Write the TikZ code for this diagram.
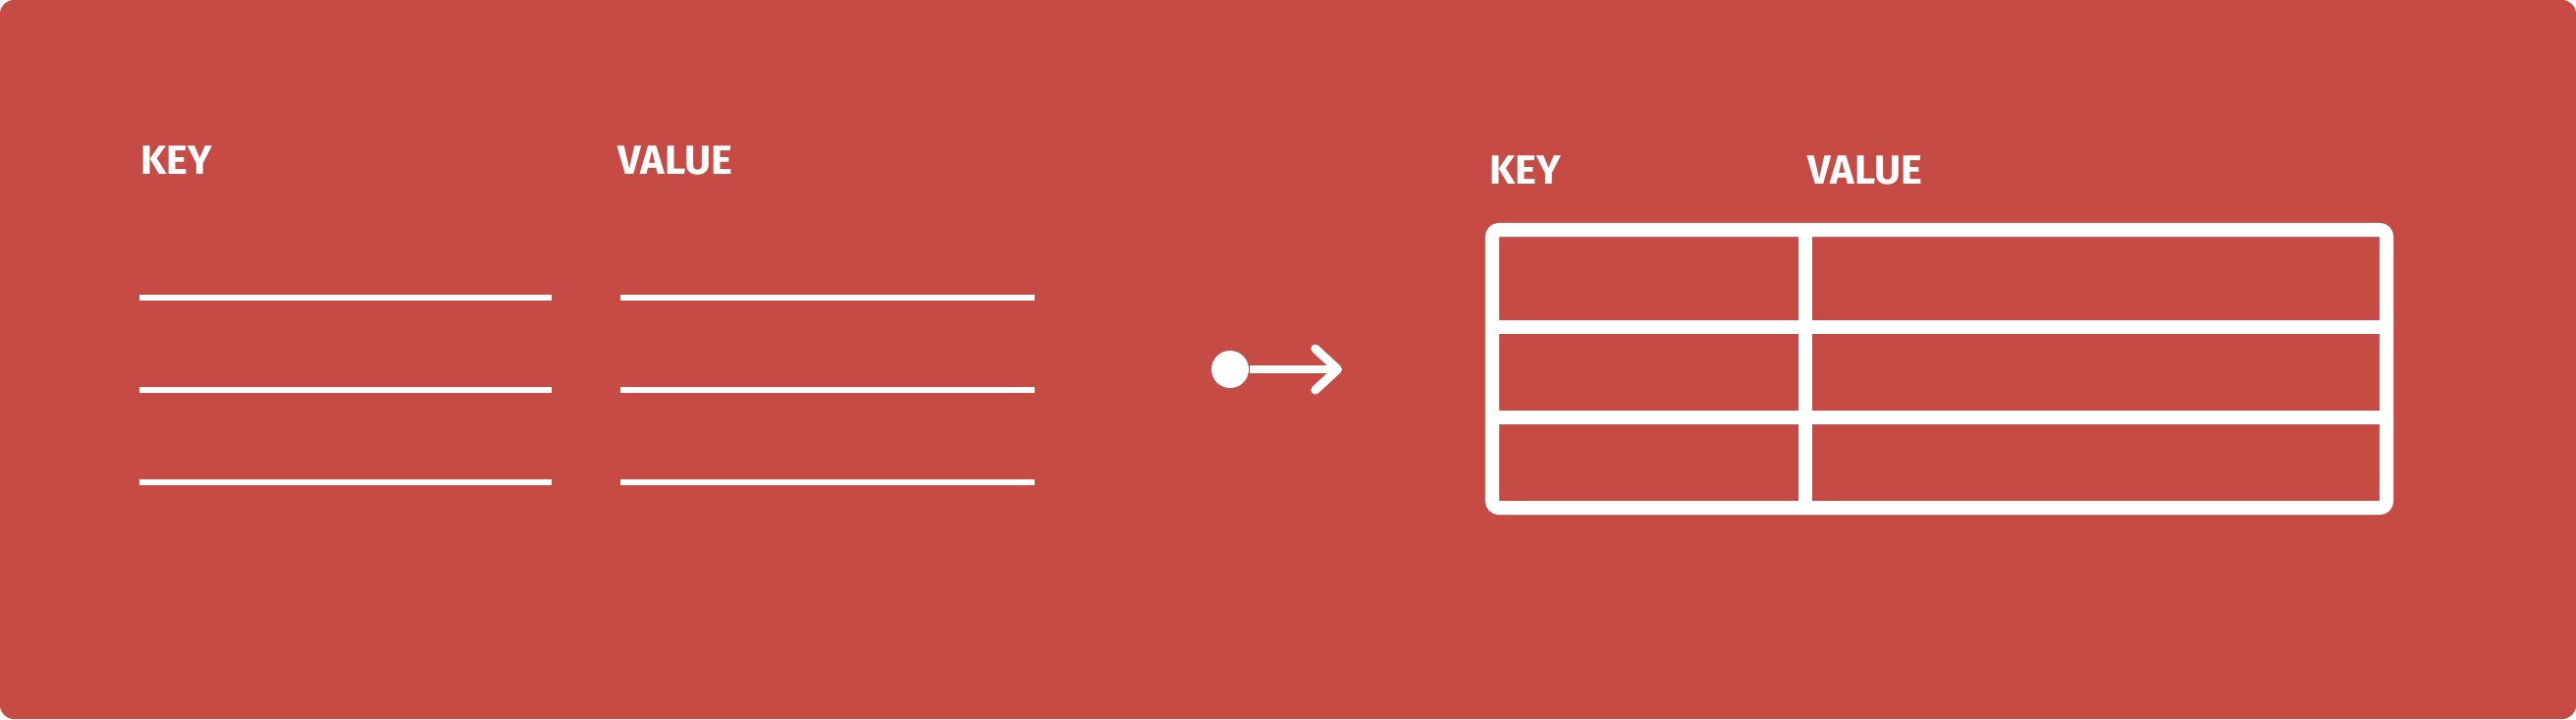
\documentclass[tikz,border=0pt]{standalone}
\usepackage{fontspec}
\setmainfont{Fira Sans}
\usepackage{tikz}
\usepackage{xcolor}
\usetikzlibrary{arrows.meta}
\definecolor{bgred}{RGB}{198,75,69}
\definecolor{linewhite}{RGB}{255,255,255}

\begin{document}
\begin{tikzpicture}[x=0.01cm, y=-0.01cm] % 1 unit = 1 pixel of the picture, y going down

    % Background card with rounded corners
    \useasboundingbox (0,0) rectangle (2624,732);
    \fill[bgred, rounded corners=4pt] (0,0) rectangle (2624,732);

    % Column headings on the left
    \node[anchor=base west, inner sep=0pt, text=white, font=\bfseries\fontsize{11.8}{14}\selectfont] (keyL) at (143,177) {KEY};
    \node[anchor=base west, inner sep=0pt, text=white, font=\bfseries\fontsize{11.8}{14}\selectfont] (valL) at (629,177) {VALUE};

    % Blank lines under KEY
    \draw[linewhite, line width=1.7pt] (142,303) -- (562,303); % first row
    \draw[linewhite, line width=1.7pt] (142,397) -- (562,397); % second row
    \draw[linewhite, line width=1.7pt] (142,491) -- (562,491); % third row
    % Blank lines under VALUE
    \draw[linewhite, line width=1.7pt] (632,303) -- (1054,303); % first row
    \draw[linewhite, line width=1.7pt] (632,397) -- (1054,397); % second row
    \draw[linewhite, line width=1.7pt] (632,491) -- (1054,491); % third row

    % Arrow that starts with a dot
    \node[circle, fill=white, minimum size=0.38cm, inner sep=0pt] (dot) at (1253,376) {};
    \coordinate (tip) at (1367,376);
    \draw[white, line width=2.5pt, -{Straight Barb[length=6.5pt, width=12pt, line cap=round, line join=round]}] (dot) -- (tip);

    % Column headings on the right
    \node[anchor=base west, inner sep=0pt, text=white, font=\bfseries\fontsize{11.8}{14}\selectfont] (keyR) at (1517,187) {KEY};
    \node[anchor=base west, inner sep=0pt, text=white, font=\bfseries\fontsize{11.8}{14}\selectfont] (valR) at (1841,187) {VALUE};

    % Table frame
    \draw[linewhite, line width=4pt, rounded corners=2pt] (1520,234) rectangle (2431,517);
    % Row lines
    \draw[linewhite, line width=4pt] (1520,333) -- (2431,333);
    \draw[linewhite, line width=4pt] (1520,425) -- (2431,425);
    % Column line
    \draw[linewhite, line width=4pt] (1839,234) -- (1839,517);

\end{tikzpicture}
\end{document}
